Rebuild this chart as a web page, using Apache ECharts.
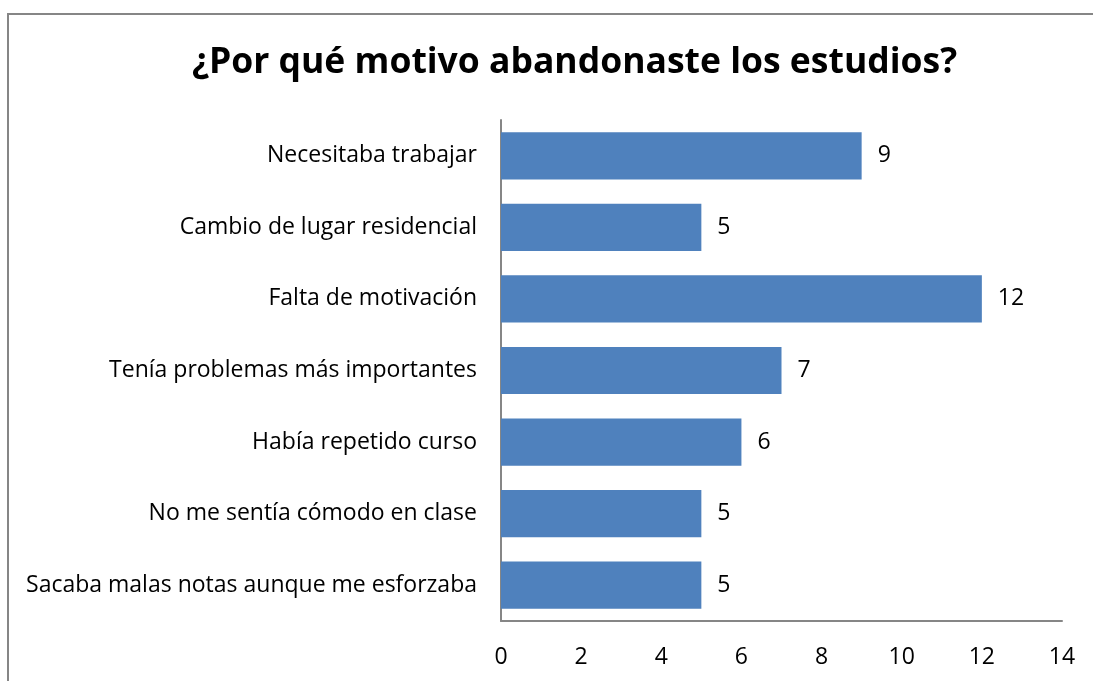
<!DOCTYPE html>
<html>
<head>
<meta charset="utf-8">
<script src="https://cdn.jsdelivr.net/npm/echarts@6/dist/echarts.min.js"></script>
<style>
html,body{margin:0;padding:0;background:#fff;}
#c{width:1093px;height:681px;}
</style>
</head>
<body>
<div id="c"></div>
<script>
const titleText = '¿Por qué motivo abandonaste los estudios?';
const categories = [
  'Necesitaba trabajar',
  'Cambio de lugar residencial',
  'Falta de motivación',
  'Tenía problemas más importantes',
  'Había repetido curso',
  'No me sentía cómodo en clase',
  'Sacaba malas notas aunque me esforzaba'
];
const values = [9, 5, 12, 7, 6, 5, 5];
const xTicks = [0, 2, 4, 6, 8, 10, 12, 14];

const FONT = '"Open Sans", "Liberation Sans", Arial, sans-serif';
const chart = echarts.init(document.getElementById('c'), null, {renderer: 'canvas'});
chart.setOption({
  animation: false,
  backgroundColor: '#fff',
  title: {
    text: titleText,
    left: 187,
    top: 40,
    textStyle: {fontFamily: FONT, fontSize: 35.5, fontWeight: 'bold', color: '#000'}
  },
  graphic: [{
    type: 'polyline',
    shape: {points: [[8, 681], [8, 14], [1093, 14]]},
    style: {stroke: '#868686', lineWidth: 2, fill: null},
    silent: true
  }],
  grid: {left: 501, right: 31, top: 120, bottom: 60, containLabel: false},
  xAxis: {
    type: 'value',
    min: 0, max: 14, interval: 2,
    axisLine: {show: true, lineStyle: {color: '#868686', width: 2}},
    axisTick: {show: false},
    splitLine: {show: false},
    axisLabel: {
      fontFamily: FONT, fontSize: 23, color: '#000', margin: 25,
      formatter: v => xTicks.includes(v) ? String(v) : ''
    }
  },
  yAxis: {
    type: 'category',
    inverse: true,
    data: categories,
    axisLine: {show: true, lineStyle: {color: '#868686', width: 2}},
    axisTick: {show: false},
    axisLabel: {fontFamily: FONT, fontSize: 23, color: '#000', margin: 24}
  },
  series: [{
    type: 'bar',
    data: values,
    barCategoryGap: '34%',
    itemStyle: {color: '#4F81BD'},
    label: {
      show: true, position: 'right', distance: 16,
      fontFamily: FONT, fontSize: 23, color: '#000'
    }
  }]
});
</script>
</body>
</html>
